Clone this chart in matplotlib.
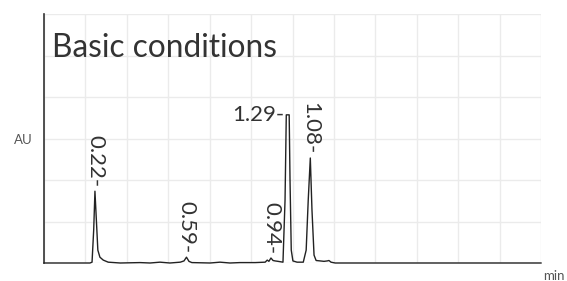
import matplotlib as mpl
mpl.use('Agg')
import matplotlib.pyplot as plt
import numpy as np

plt.rcParams['font.family'] = ['Lato', 'DejaVu Sans']

# chromatogram trace (x in min, y in AU)
trace_x = [0.00, 1.11, 1.16, 1.20, 1.23, 1.27, 1.30, 1.35, 1.43, 1.55, 1.84, 2.32, 2.56,
           2.80, 3.04, 3.29, 3.38, 3.44, 3.50, 3.57, 4.01, 4.25, 4.49, 4.73, 5.10, 5.34,
           5.39, 5.43, 5.48, 5.53, 5.58, 5.65, 5.77, 5.82, 5.85, 5.92, 5.94, 5.97, 6.01,
           6.11, 6.26, 6.33, 6.38, 6.43, 6.47, 6.52, 6.57, 6.67, 6.76, 6.84, 6.88, 6.93,
           7.03, 12.00]
trace_y = [0.00, 0.00, 0.02, 0.80, 1.73, 0.92, 0.31, 0.14, 0.07, 0.02, 0.00, 0.01, 0.00,
           0.02, 0.00, 0.02, 0.05, 0.14, 0.04, 0.01, 0.00, 0.02, 0.00, 0.01, 0.01, 0.02,
           0.07, 0.04, 0.12, 0.06, 0.05, 0.04, 0.02, 1.52, 3.57, 3.57, 2.00, 0.31, 0.05,
           0.02, 0.02, 0.31, 1.52, 2.53, 1.28, 0.19, 0.06, 0.05, 0.04, 0.05, 0.06, 0.02,
           0.00, 0.00]

# peak labels
peak_labels = ['0.22', '0.59', '0.94', '1.29', '1.08']
peak_x = [1.23, 3.44, 5.50, 5.85, 6.43]
peak_y = [1.73, 0.14, 0.12, 3.57, 2.53]
peak_rot = [270, 270, 270, 0, 270]

fig = plt.figure(figsize=(5.67, 2.81), dpi=100)
ax = fig.add_axes([44/567, 18/281, 497/567, 249/281])

ax.plot(trace_x, trace_y, color='#222222', linewidth=1.0, clip_on=False, zorder=3)

for lab, px, py, rot in zip(peak_labels, peak_x, peak_y, peak_rot):
    if rot == 0:
        ax.annotate(lab + '-', (px, py), xytext=(-1.5, 0), textcoords='offset points',
                    ha='right', va='center', fontsize=16, color='#333333')
    else:
        ax.annotate(lab + '-', (px, py), xytext=(0, 3), textcoords='offset points',
                    ha='center', va='bottom', rotation=rot, fontsize=16, color='#333333')

ax.set_xlim(0, 12)
ax.set_ylim(0, 6)
ax.set_xticks(np.arange(0, 13, 1))
ax.set_yticks(np.arange(0, 7, 1))
ax.tick_params(length=0, labelbottom=False, labelleft=False)
ax.grid(True, color='#ebebeb', linewidth=1.0)
ax.set_axisbelow(True)
for s in ['top', 'right', 'bottom']:
    ax.spines[s].set_visible(False)
ax.spines['left'].set_color('#333333')
ax.spines['left'].set_linewidth(1.2)

ax.text(0.016, 0.827, 'Basic conditions', transform=ax.transAxes, fontsize=22.8,
        color='#333333', ha='left', va='baseline')

fig.text(23.5/567, 1 - 140/281, 'AU', fontsize=9.5, color='#555555', ha='center', va='center')
fig.text(543/567, 1 - 276/281, 'min', fontsize=9.5, color='#555555', ha='left', va='center')

fig.savefig('out.png', dpi=100)
